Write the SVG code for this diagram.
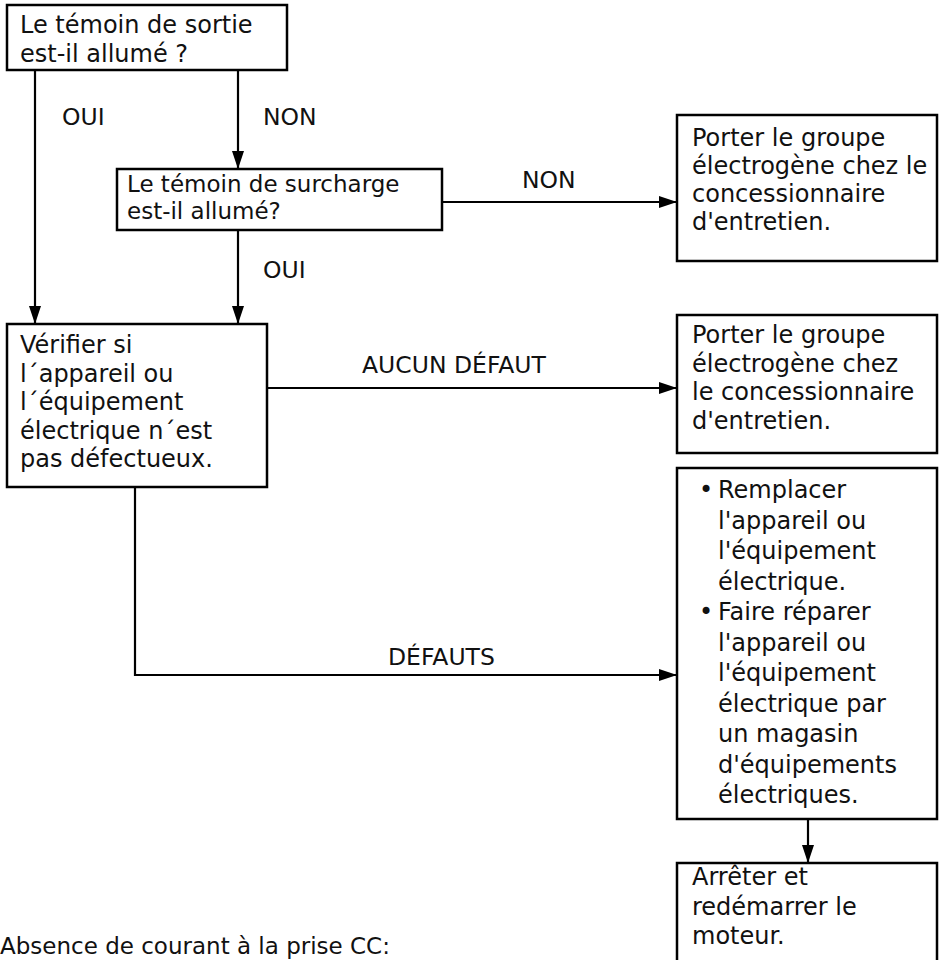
<svg xmlns="http://www.w3.org/2000/svg" width="939" height="960" viewBox="0 0 939 960">
<defs>
<marker id="arr" markerUnits="userSpaceOnUse" markerWidth="20" markerHeight="14" refX="18" refY="6" orient="auto">
<path d="M0,0 L18,6 L0,12 Z" fill="#000"/>
</marker>
<style>
.box{fill:#fff;stroke:#000;stroke-width:2.5}
.t{font-family:"DejaVu Sans","Open Sans",sans-serif;font-size:24px;fill:#111}
.s{font-size:23px}
.lbl{font-family:"DejaVu Sans","Open Sans",sans-serif;font-size:23.5px;fill:#111}
.c{fill:none;stroke:#000;stroke-width:2.2}
</style>
</defs>
<rect width="939" height="960" fill="#fff"/>
<g id="connectors">
<line class="c" x1="35" y1="70" x2="35" y2="324" marker-end="url(#arr)"/>
<line class="c" x1="238" y1="70" x2="238" y2="169" marker-end="url(#arr)"/>
<line class="c" x1="238" y1="230" x2="238" y2="324" marker-end="url(#arr)"/>
<line class="c" x1="442" y1="202" x2="677" y2="202" marker-end="url(#arr)"/>
<line class="c" x1="267" y1="388" x2="677" y2="388" marker-end="url(#arr)"/>
<path class="c" d="M135,487 V675 H677" marker-end="url(#arr)"/>
<line class="c" x1="808" y1="819" x2="808" y2="863" marker-end="url(#arr)"/>
<text class="lbl" x="62" y="125">OUI</text>
<text class="lbl" x="263" y="125">NON</text>
<text class="lbl" x="522" y="188">NON</text>
<text class="lbl" x="263" y="278">OUI</text>
<text class="lbl" x="362" y="373">AUCUN DÉFAUT</text>
<text class="lbl" x="388" y="665">DÉFAUTS</text>
</g>
<g id="n1">
<rect class="box" x="7" y="5" width="280" height="65"/>
<text class="t" x="20" y="33">Le témoin de sortie</text>
<text class="t" x="20" y="62">est-il allumé ?</text>
</g>
<g id="n2">
<rect class="box" x="117" y="169" width="325" height="61"/>
<text class="t s" x="127" y="192">Le témoin de surcharge</text>
<text class="t s" x="127" y="219">est-il allumé?</text>
</g>
<g id="n3">
<rect class="box" x="677" y="115" width="260" height="146"/>
<text class="t" x="692" y="146">Porter le groupe</text>
<text class="t" x="692" y="174">électrogène chez le</text>
<text class="t" x="692" y="202">concessionnaire</text>
<text class="t" x="692" y="230">d'entretien.</text>
</g>
<g id="n4">
<rect class="box" x="7" y="324" width="260" height="163"/>
<text class="t" x="20" y="353">Vérifier si</text>
<text class="t" x="20" y="381.5">l´appareil ou</text>
<text class="t" x="20" y="410">l´équipement</text>
<text class="t" x="20" y="438.5">électrique n´est</text>
<text class="t" x="20" y="467">pas défectueux.</text>
</g>
<g id="n5">
<rect class="box" x="677" y="315" width="260" height="138"/>
<text class="t" x="692" y="343">Porter le groupe</text>
<text class="t" x="692" y="371.5">électrogène chez</text>
<text class="t" x="692" y="400">le concessionnaire</text>
<text class="t" x="692" y="428.5">d'entretien.</text>
</g>
<g id="n6">
<rect class="box" x="677" y="468" width="260" height="351"/>
<text class="t" x="699" y="498">•</text>
<text class="t" x="718" y="498">Remplacer</text>
<text class="t" x="718" y="528.5">l'appareil ou</text>
<text class="t" x="718" y="559">l'équipement</text>
<text class="t" x="718" y="589.5">électrique.</text>
<text class="t" x="699" y="620">•</text>
<text class="t" x="718" y="620">Faire réparer</text>
<text class="t" x="718" y="650.5">l'appareil ou</text>
<text class="t" x="718" y="681">l'équipement</text>
<text class="t" x="718" y="711.5">électrique par</text>
<text class="t" x="718" y="742">un magasin</text>
<text class="t" x="718" y="772.5">d'équipements</text>
<text class="t" x="718" y="803">électriques.</text>
</g>
<g id="n7">
<rect class="box" x="677" y="863" width="260" height="120"/>
<text class="t" x="692" y="885">Arrêter et</text>
<text class="t" x="692" y="914.5">redémarrer le</text>
<text class="t" x="692" y="944">moteur.</text>
</g>
<text class="t s" x="0" y="954">Absence de courant à la prise CC:</text>
</svg>
